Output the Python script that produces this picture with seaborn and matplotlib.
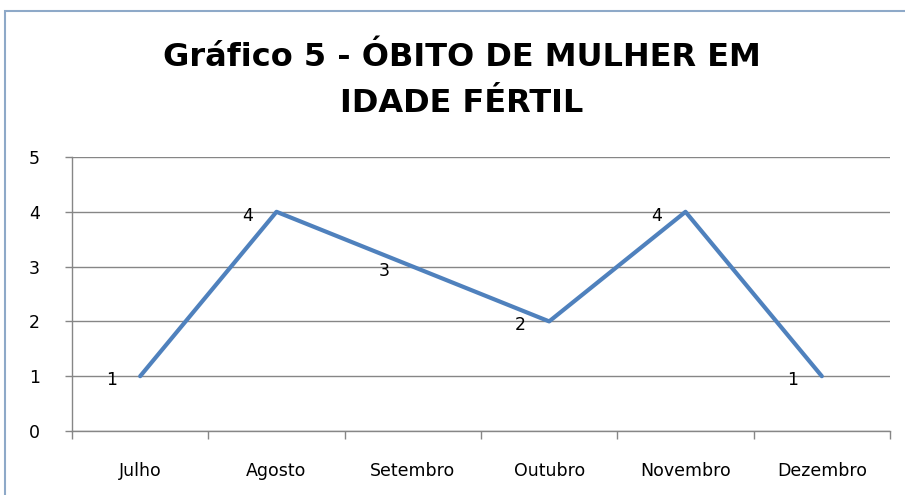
import numpy as np
import seaborn as sns
import matplotlib.pyplot as plt
from matplotlib.patches import Rectangle

# Dados do gráfico
meses = ['Julho', 'Agosto', 'Setembro', 'Outubro', 'Novembro', 'Dezembro']
obitos = [1, 4, 3, 2, 4, 1]
titulo = 'Gráfico 5 - ÓBITO DE MULHER EM\nIDADE FÉRTIL'

sns.set_style('white')
plt.rcParams['font.family'] = ['DejaVu Sans']
plt.rcParams['text.color'] = 'black'
plt.rcParams['xtick.color'] = '#868686'
plt.rcParams['ytick.color'] = '#868686'
plt.rcParams['xtick.labelcolor'] = 'black'
plt.rcParams['ytick.labelcolor'] = 'black'

fig = plt.figure(figsize=(9.05, 4.95), dpi=100)
ax = fig.add_axes([72 / 905, 1 - 431 / 495, (890 - 72) / 905, (431 - 157) / 495])

# moldura do gráfico
fig.patches.append(Rectangle((5 / 905, -0.05), 1.1, 1 - 11 / 495 + 0.05,
                             transform=fig.transFigure, fill=False,
                             edgecolor='#8EA9C8', linewidth=1.5))

pos = np.arange(len(meses))
sns.lineplot(x=pos, y=obitos, ax=ax, color='#4F81BD', linewidth=3.0)

for xi, yi in zip(pos, obitos):
    ax.annotate(str(yi), (xi, yi), xytext=(-29, -4), textcoords='offset pixels',
                ha='center', va='center', fontsize=12.5, color='black')

ax.set_xlim(-0.5, len(meses) - 0.5)
ax.set_ylim(0, 5)
ax.set_yticks(range(0, 6))
ax.set_xticks(pos)
ax.set_xticklabels(meses)
ax.set_xticks(np.arange(-0.5, len(meses), 1), minor=True)
ax.tick_params(axis='x', which='major', bottom=True, length=0, pad=22, labelsize=12.5)
ax.tick_params(axis='x', which='minor', bottom=True, length=6, width=1, direction='out')
ax.tick_params(axis='y', left=True, length=5, width=1, direction='out', pad=18, labelsize=12.5)
ax.yaxis.grid(True, color='#868686', linewidth=1)
ax.set_axisbelow(True)
ax.set_xlabel('')
ax.set_ylabel('')

for s in ['top', 'right']:
    ax.spines[s].set_visible(False)
for s in ['left', 'bottom']:
    ax.spines[s].set_color('#868686')
    ax.spines[s].set_linewidth(1)

# título em duas linhas
for linha, ypx in zip(titulo.split('\n'), [58, 104]):
    fig.text(462 / 905, 1 - ypx / 495, linha, ha='center', va='center', color='black',
             fontsize=23, fontweight='bold')

fig.savefig('out.png', dpi=100)
